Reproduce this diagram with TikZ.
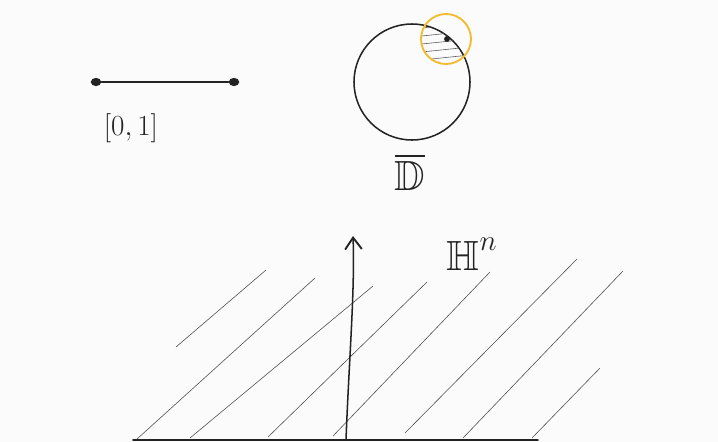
\documentclass[tikz,border=0pt]{standalone}
\usepackage{amsmath,amssymb}
\usepackage{tikz}
\usetikzlibrary{positioning,calc,arrows.meta,shapes.geometric}
\definecolor{ink}{RGB}{35,35,35}
\definecolor{paper}{RGB}{251,251,251}
\definecolor{hl}{RGB}{242,188,48}
\definecolor{hatch}{RGB}{90,90,90}

\begin{document}
\begin{tikzpicture}[
  x=0.03cm, y=-0.03cm,
  pen/.style={draw=ink, line width=1.3pt, line cap=round},
  thin hatch/.style={draw=hatch, line width=0.5pt, line cap=round},
  blob/.style={ellipse, fill=ink, inner sep=0pt, minimum width=9pt, minimum height=7pt},
  dotmark/.style={circle, fill=ink, inner sep=0pt, minimum size=5pt},
  lab/.style={text=ink, inner sep=1pt},
]
% ---- page ----
\fill[paper] (0,0) rectangle (718,442);
\useasboundingbox (0,0) rectangle (718,442);

% ---- the interval ----
\node[blob] (I0) at (96,82) {};
\node[blob] (I1) at (234,82) {};
\draw[pen] (I0) -- (I1);
\node[lab, font=\fontsize{29}{33}\selectfont] (ILAB) at (131,128) {$[0,1]$};

% ---- the closed disc ----
\node[circle, pen, minimum size=116*0.03cm, inner sep=0pt] (DISC) at (412,82) {};
\begin{scope}
  \clip (412,82) circle (58);
  \clip (446,39) circle (25);
  \foreach \y in {26,34,42,50,58}
    \draw[thin hatch] (412,\y+3) -- (470,\y-3);
\end{scope}
\node[circle, draw=hl, line width=1.6pt, minimum size=50*0.03cm, inner sep=0pt] (NBHD) at (446,39) {};
\node[dotmark] (PT) at (447,39) {};
\node[lab, font=\fontsize{36}{40}\selectfont] (DLAB) at (410,172) {$\overline{\mathbb{D}}$};

% ---- the half space ----
\coordinate (B0) at (133,440);
\coordinate (B1) at (538,440);
\draw[pen, line width=1.5pt] (B0) -- (B1);

\foreach \a/\b/\c/\d in {176/347/266/270, 137/439/315/278, 190/438/373/286,
                         268/437/427/282, 333/436/490/272, 405/433/577/259,
                         463/438/623/271, 532/438/600/368}
  \draw[thin hatch, draw=ink!80] (\a,\b) -- (\c,\d);

\coordinate (AX0) at (346,440);
\coordinate (AX1) at (353,236);
\draw[pen, -{Straight Barb[length=3.5mm, width=5mm, line width=1.6pt]}]
  (AX0) .. controls (349,360) and (355,290) .. (AX1);

\node[lab, font=\fontsize{36}{40}\selectfont] (HLAB) at (472,254) {$\mathbb{H}^{\raisebox{8pt}{$\scriptstyle n$}}$};

\end{tikzpicture}
\end{document}
